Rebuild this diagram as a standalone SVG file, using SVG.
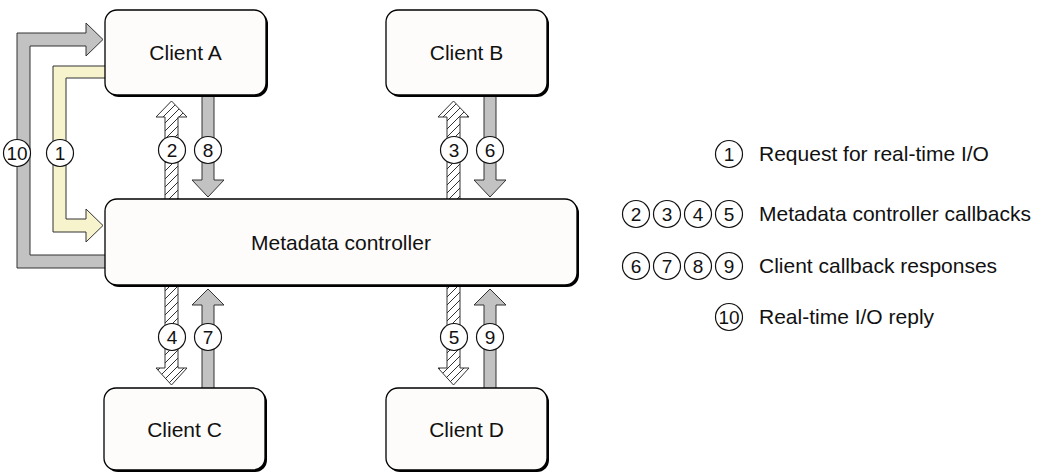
<svg xmlns="http://www.w3.org/2000/svg" width="1037" height="475" viewBox="0 0 1037 475">
<style>
.box{fill:#fdfcfa;stroke:#000;stroke-width:1.3}
.shadow{fill:#000}
.gray{fill:#c2c2c2;stroke:#333;stroke-width:1}
.yellow{fill:#f6f3cd;stroke:#333;stroke-width:1}
.hatch{fill:url(#hatch);stroke:#333;stroke-width:1}
.lbl{font-family:"Liberation Sans",Arial,sans-serif;font-size:21px;fill:#111}
.num circle{fill:#fff;stroke:#111;stroke-width:1.2}
.num text{font-family:"Liberation Sans",Arial,sans-serif;font-size:19px;fill:#111;text-anchor:middle}
</style>
<defs>
<pattern id="hatch" patternUnits="userSpaceOnUse" width="8" height="8">
<rect width="8" height="8" fill="#fff"/>
<path d="M-1,9 L9,-1 M-3,3 L3,-3 M5,11 L11,5" stroke="#333" stroke-width="1"/>
</pattern>
</defs>
<rect width="1037" height="475" fill="#fff"/>
<g id="connectors">
<polygon class="gray" points="107,255 30,255 30,46 86,46 86,56 103,39.5 86,23 86,33 17,33 17,268 107,268"/>
<polygon class="yellow" points="107,66 53,66 53,232 86,232 86,242 103,225.5 86,209 86,219 66,219 66,78 107,78"/>
<polygon class="hatch" points="165,200 165,117 156,117 171.5,101 187,117 178,117 178,200"/>
<polygon class="gray" points="202,95 202,180 192,180 208,197 224,180 214,180 214,95"/>
<polygon class="hatch" points="447,200 447,117 438,117 453.5,101 469,117 460,117 460,200"/>
<polygon class="gray" points="484,95 484,180 474,180 490,197 506,180 496,180 496,95"/>
<polygon class="hatch" points="165,285 165,368 156,368 171.5,385 187,368 178,368 178,285"/>
<polygon class="gray" points="202,389 202,305 192,305 208,289 224,305 214,305 214,389"/>
<polygon class="hatch" points="447,285 447,368 438,368 453.5,385 469,368 460,368 460,285"/>
<polygon class="gray" points="484,389 484,305 474,305 490,289 506,305 496,305 496,389"/>
</g>
<g id="client-a">
<rect class="shadow" x="107" y="12" width="161" height="85" rx="12"/>
<rect class="box" x="105" y="10" width="161" height="85" rx="12"/>
<text class="lbl" x="185.5" y="60" text-anchor="middle">Client A</text>
</g>
<g id="client-b">
<rect class="shadow" x="388" y="12" width="161" height="85" rx="12"/>
<rect class="box" x="386" y="10" width="161" height="85" rx="12"/>
<text class="lbl" x="466.5" y="60" text-anchor="middle">Client B</text>
</g>
<g id="metadata-controller">
<rect class="shadow" x="107" y="201" width="472" height="86" rx="12"/>
<rect class="box" x="105" y="199" width="472" height="86" rx="12"/>
<text class="lbl" x="341" y="250" text-anchor="middle">Metadata controller</text>
</g>
<g id="client-c">
<rect class="shadow" x="106" y="390" width="161" height="82" rx="12"/>
<rect class="box" x="104" y="388" width="161" height="82" rx="12"/>
<text class="lbl" x="184.5" y="437" text-anchor="middle">Client C</text>
</g>
<g id="client-d">
<rect class="shadow" x="388" y="390" width="161" height="82" rx="12"/>
<rect class="box" x="386" y="388" width="161" height="82" rx="12"/>
<text class="lbl" x="466.5" y="437" text-anchor="middle">Client D</text>
</g>
<g id="labels" class="num">
<circle cx="17" cy="153" r="13.5"/><text x="17" y="160">10</text>
<circle cx="60" cy="153" r="13.5"/><text x="60" y="160">1</text>
<circle cx="172" cy="150" r="13.5"/><text x="172" y="157">2</text>
<circle cx="208" cy="150" r="13.5"/><text x="208" y="157">8</text>
<circle cx="454" cy="150" r="13.5"/><text x="454" y="157">3</text>
<circle cx="490" cy="150" r="13.5"/><text x="490" y="157">6</text>
<circle cx="172" cy="337" r="13.5"/><text x="172" y="344">4</text>
<circle cx="208" cy="337" r="13.5"/><text x="208" y="344">7</text>
<circle cx="454" cy="337" r="13.5"/><text x="454" y="344">5</text>
<circle cx="490" cy="337" r="13.5"/><text x="490" y="344">9</text>
</g>
<g id="legend">
<g class="num">
<circle cx="729" cy="154" r="13.5"/><text x="729" y="161">1</text>
<circle cx="636" cy="214" r="13.5"/><text x="636" y="221">2</text>
<circle cx="667" cy="214" r="13.5"/><text x="667" y="221">3</text>
<circle cx="698" cy="214" r="13.5"/><text x="698" y="221">4</text>
<circle cx="729" cy="214" r="13.5"/><text x="729" y="221">5</text>
<circle cx="636" cy="266" r="13.5"/><text x="636" y="273">6</text>
<circle cx="667" cy="266" r="13.5"/><text x="667" y="273">7</text>
<circle cx="698" cy="266" r="13.5"/><text x="698" y="273">8</text>
<circle cx="729" cy="266" r="13.5"/><text x="729" y="273">9</text>
<circle cx="729" cy="317" r="13.5"/><text x="729" y="324">10</text>
</g>
<text class="lbl" x="759" y="161">Request for real-time I/O</text>
<text class="lbl" x="759" y="221">Metadata controller callbacks</text>
<text class="lbl" x="759" y="273">Client callback responses</text>
<text class="lbl" x="759" y="324">Real-time I/O reply</text>
</g>
</svg>
